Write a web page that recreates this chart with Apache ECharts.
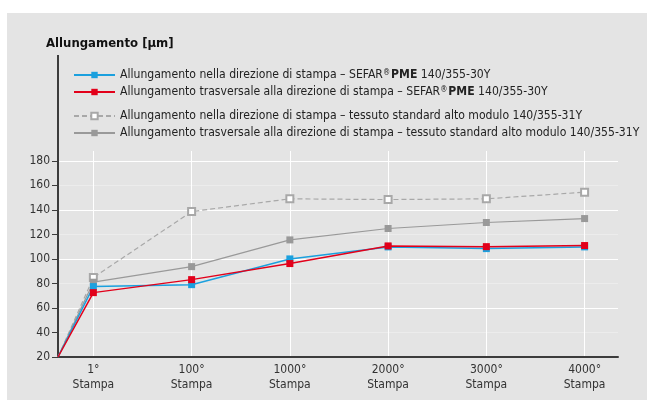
<!DOCTYPE html>
<html>
<head>
    <meta charset="utf-8">
    <style>
        body{ margin:0; padding:0; background:#fff; }
        #chart{ width:647px; height:400px; }
    </style>
</head>
<body>
    <div id="chart"></div>
    <script src="https://cdn.jsdelivr.net/npm/echarts@6/dist/echarts.min.js"></script>
    <script>
        // categorie (asse x) e valori
        var categories = ['1°', '100°', '1000°', '2000°', '3000°', '4000°'];
        var startValue = 20;
        var pmeMachine  = [77.4, 79.0, 100.0, 109.8, 108.4, 109.8];
        var pmeCross    = [72.5, 83.1, 96.2, 110.6, 110.0, 110.9];
        var stdMachine  = [84.8, 138.6, 149.0, 148.4, 149.0, 154.4];
        var stdCross    = [81.0, 93.7, 115.5, 124.8, 129.7, 132.9];
        var yTicks = [20, 40, 60, 80, 100, 120, 140, 160, 180];

        var names = [
            'Allungamento nella direzione di stampa – SEFAR® PME 140/355-30Y',
            'Allungamento trasversale alla direzione di stampa – SEFAR® PME 140/355-30Y',
            'Allungamento nella direzione di stampa – tessuto standard alto modulo 140/355-31Y',
            'Allungamento trasversale alla direzione di stampa – tessuto standard alto modulo 140/355-31Y'
        ];

        var xMin = -0.36, xMax = 5.34;
        var font = '"Liberation Sans Narrow", "DejaVu Sans Condensed", "Liberation Sans", sans-serif';

        function build(vals){
            var d = [{ value: [xMin, startValue], symbol: 'none' }];
            vals.forEach(function(v, i){ d.push([i, v]); });
            return d;
        }

        var gridColors = [];
        for (var v = 20; v <= 188; v += 10) {
            if (v > 180) gridColors.push('rgba(0,0,0,0)');
            else gridColors.push(v % 20 === 0 ? '#ffffff' : '#ececec');
        }

        var chart = echarts.init(document.getElementById('chart'));
        var legendText = {
            fontFamily: font, fontSize: 12.1, color: '#222',
            rich: {
                r: { fontFamily: font, fontSize: 8, color: '#222', verticalAlign: 'top', padding: [0, 1, 4, 0] },
                b: { fontFamily: font, fontSize: 12.1, fontWeight: 'bold', color: '#222' }
            }
        };
        function legendFmt(name){
            return name.replace('® PME', '{r|®}{b|PME}');
        }

        var option = {
            animation: false,
            backgroundColor: '#ffffff',
            graphic: [
                { type: 'rect', left: 7, top: 13, shape: { width: 640, height: 387 }, style: { fill: '#e4e4e4' }, z: -10 },
                { type: 'text', left: 46, top: 37, style: { text: 'Allungamento [µm]', font: 'bold 13px ' + font, fill: '#111' } },
                { type: 'line', shape: { x1: 58, y1: 55, x2: 58, y2: 152 }, style: { stroke: '#3c3c3c', lineWidth: 2 } }
            ],
            legend: [
                {
                    data: [names[0], names[1]], orient: 'vertical', left: 68, top: 64,
                    itemWidth: 41, itemHeight: 8, itemGap: 5,
                    textStyle: legendText, formatter: legendFmt
                },
                {
                    data: [names[2], names[3]], orient: 'vertical', left: 68, top: 105,
                    itemWidth: 41, itemHeight: 8, itemGap: 5,
                    textStyle: legendText, formatter: legendFmt
                }
            ],
            grid: { left: 58, right: 29, top: 151, bottom: 43 },
            xAxis: {
                type: 'value', min: xMin, max: xMax,
                axisLine: { onZero: false, lineStyle: { color: '#3c3c3c', width: 2 } },
                axisTick: { show: false },
                splitLine: { show: false },
                axisLabel: {
                    customValues: categories.map(function(c, i){ return i; }),
                    formatter: function(v){ return categories[Math.round(v)] + '\nStampa'; },
                    fontFamily: font, fontSize: 12, color: '#333', lineHeight: 15, margin: 5
                }
            },
            yAxis: {
                type: 'value', min: 20, max: 188, interval: 10,
                axisLine: { show: true, onZero: false, lineStyle: { color: '#3c3c3c', width: 2 } },
                axisTick: { show: true, customValues: yTicks, length: 6, lineStyle: { color: '#3c3c3c', width: 1 } },
                axisLabel: {
                    customValues: yTicks,
                    fontFamily: font, fontSize: 12, color: '#333', margin: 8
                },
                splitLine: { show: true, lineStyle: { color: gridColors, width: 1 } }
            },
            series: [
                {
                    name: names[2], type: 'line', data: build(stdMachine),
                    symbol: 'emptyRect', symbolSize: 7, color: '#a8a8a8',
                    lineStyle: { width: 1.2, type: [5, 3], color: '#a8a8a8' },
                    itemStyle: { color: '#a8a8a8', borderColor: '#a8a8a8', borderWidth: 1.2 },
                    markLine: {
                        silent: true, symbol: 'none', label: { show: false },
                        lineStyle: { color: '#ffffff', width: 1, type: 'solid' },
                        data: categories.map(function(c, i){ return { xAxis: i }; }),
                        z: 0
                    },
                    z: 3
                },
                {
                    name: names[3], type: 'line', data: build(stdCross),
                    symbol: 'rect', symbolSize: 7, color: '#999999',
                    lineStyle: { width: 1.2, color: '#999999' }, z: 4
                },
                {
                    name: names[0], type: 'line', data: build(pmeMachine),
                    symbol: 'rect', symbolSize: 7, color: '#1ba0de',
                    lineStyle: { width: 1.5, color: '#1ba0de' }, z: 5
                },
                {
                    name: names[1], type: 'line', data: build(pmeCross),
                    symbol: 'rect', symbolSize: 7, color: '#e2001a',
                    lineStyle: { width: 1.5, color: '#e2001a' }, z: 6
                }
            ]
        };
        chart.setOption(option);
    </script>
</body>
</html>
